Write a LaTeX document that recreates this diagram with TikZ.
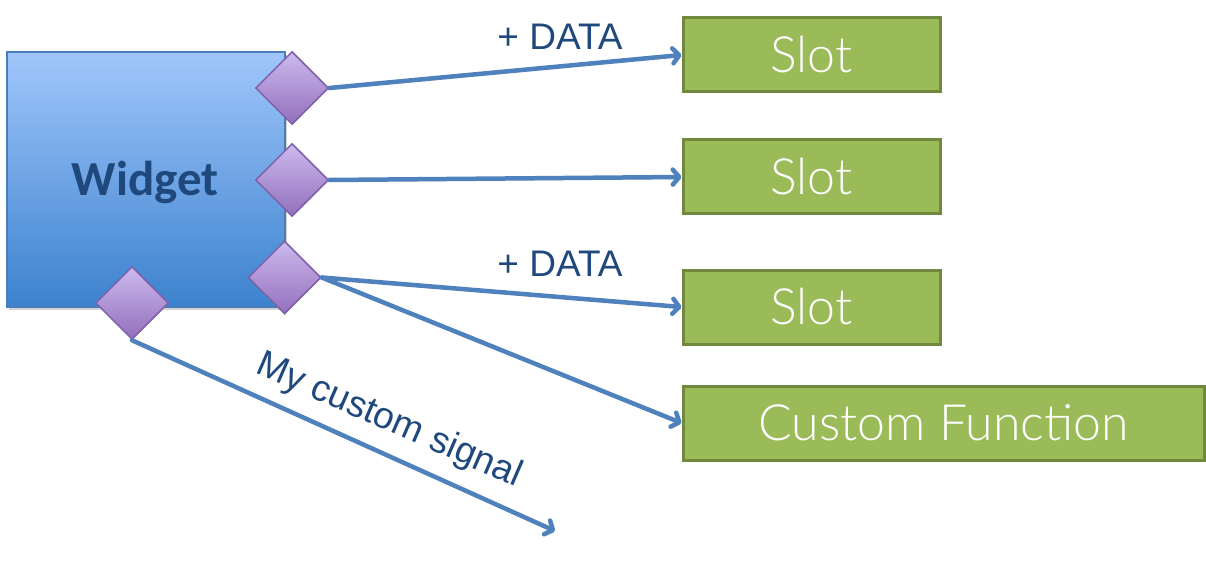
\documentclass[tikz,border=0pt]{standalone}
\usepackage{fontspec}
\setmainfont{Liberation Sans}
\newfontfamily\widgetfont{Carlito}
\newfontfamily\slotfont{Lato Light}
\usetikzlibrary{shapes.geometric,arrows.meta,shadows}
\definecolor{wtop}{HTML}{A0C6FB}
\definecolor{wbot}{HTML}{3C82CE}
\definecolor{wborder}{HTML}{4A7EBB}
\definecolor{dtop}{HTML}{CDB9EE}
\definecolor{dbot}{HTML}{9270BC}
\definecolor{dborder}{HTML}{7E5FA8}
\definecolor{gfill}{HTML}{9BBB59}
\definecolor{gborder}{HTML}{71893F}
\definecolor{arrowc}{HTML}{4F81BD}
\definecolor{textc}{HTML}{1F497D}
\tikzset{
  widgetbox/.style={rectangle, draw=wborder, line width=1.5pt, top color=wtop, bottom color=wbot,
    minimum width=278pt, minimum height=255pt, inner sep=0pt,
    drop shadow={opacity=0.35, shadow xshift=2pt, shadow yshift=-3pt}},
  port/.style={diamond, draw=dborder, line width=1.5pt, top color=dtop, bottom color=dbot,
    minimum width=73pt, minimum height=73pt, inner sep=0pt},
  slotbox/.style={rectangle, draw=gborder, fill=gfill, line width=3pt, minimum height=74pt,
    inner sep=0pt, text=white, font=\slotfont\fontsize{50pt}{50pt}\selectfont},
  conn/.style={draw=arrowc, line width=4.5pt, line cap=round,
    -{Straight Barb[length=6.5pt,width=15pt,round]},
    preaction={draw=black, draw opacity=0.12, transform canvas={shift={(1pt,-2pt)}}}},
  lbl/.style={text=textc, font=\fontsize{37pt}{37pt}\selectfont, inner sep=0pt}
}
\begin{document}
\begin{tikzpicture}[x=1pt,y=-1pt]
\useasboundingbox (0,0) rectangle (1206,561);
% widget
\node[widgetbox] (w) at (146,179.5) {};
\node[text=textc, font=\widgetfont\bfseries\fontsize{49pt}{49pt}\selectfont] (wl) at (145,182) {Widget};
% ports
\node[port] (d1) at (292,88) {};
\node[port] (d2) at (292,180) {};
\node[port] (d3) at (284.5,277.5) {};
\node[port] (d4) at (132,303) {};
% slots
\node[slotbox, minimum width=257pt] (s1) at (811.5,55) {Slot};
\node[slotbox, minimum width=257pt] (s2) at (811.5,177) {Slot};
\node[slotbox, minimum width=257pt] (s3) at (811.5,307) {Slot};
\node[slotbox, minimum width=521pt] (cf) at (943.5,423) {Custom Function};
\coordinate (free) at (555,531);
% connectors
\draw[conn] (d1.east) -- (s1.west);
\draw[conn] (d2.east) -- (s2.west);
\draw[conn] (d3.east) -- (s3.west);
\draw[conn] (d3.east) -- (cf.west);
\draw[conn] (d4.south) -- (free);
% labels
\node[lbl] (l1) at (560,37) {+ DATA};
\node[lbl] (l2) at (560,264) {+ DATA};
\node[lbl, font=\fontsize{37pt}{37pt}\selectfont, rotate=-23.5] (l3) at (389,421) {My custom signal};
\end{tikzpicture}
\end{document}
